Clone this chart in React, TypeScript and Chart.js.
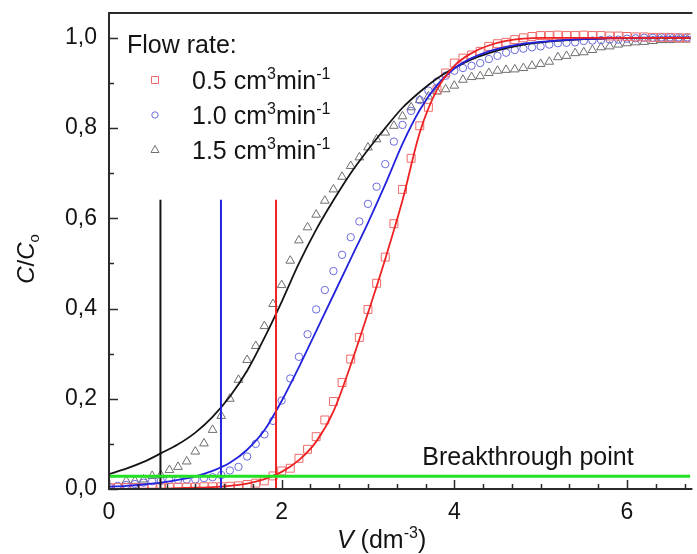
import React, { useEffect, useRef } from 'react';
import { Chart, registerables } from 'chart.js';

Chart.register(...registerables);

const FONT = '"Liberation Sans", Arial, Helvetica, sans-serif';

// ---- measured points (x = V in dm^3) ----
const V_POINTS = [
  0.0, 0.1, 0.2, 0.3, 0.4, 0.5, 0.6, 0.7, 0.8, 0.9,
  1.0, 1.1, 1.2, 1.3, 1.4, 1.5, 1.6, 1.7, 1.8, 1.9,
  2.0, 2.1, 2.2, 2.3, 2.4, 2.5, 2.6, 2.7, 2.8, 2.9,
  3.0, 3.1, 3.2, 3.3, 3.4, 3.5, 3.6, 3.7, 3.8, 3.9,
  4.0, 4.1, 4.2, 4.3, 4.4, 4.5, 4.6, 4.7, 4.8, 4.9,
  5.0, 5.1, 5.2, 5.3, 5.4, 5.5, 5.6, 5.7, 5.8, 5.9,
  6.0, 6.1, 6.2, 6.3, 6.4, 6.5, 6.6, 6.7,
];

const C_FLOW_05 = [
  0.003, 0.003, 0.003, 0.003, 0.003, 0.003, 0.003, 0.004, 0.004, 0.004,
  0.004, 0.005, 0.005, 0.005, 0.006, 0.007, 0.010, 0.013, 0.018, 0.029,
  0.040, 0.046, 0.068, 0.088, 0.116, 0.153, 0.194, 0.236, 0.288, 0.336,
  0.398, 0.456, 0.514, 0.588, 0.664, 0.733, 0.805, 0.846, 0.885, 0.922,
  0.944, 0.955, 0.962, 0.970, 0.981, 0.987, 0.990, 0.996, 1.000, 1.003,
  1.005, 1.005, 1.006, 1.005, 1.005, 1.006, 1.005, 1.005, 1.004, 1.004,
  1.003, 1.002, 1.002, 1.001, 1.001, 1.001, 1.000, 1.000,
];

const C_FLOW_10 = [
  0.005, 0.007, 0.009, 0.011, 0.014, 0.017, 0.018, 0.020, 0.020, 0.021,
  0.021, 0.024, 0.026, 0.031, 0.041, 0.049, 0.072, 0.100, 0.121, 0.151,
  0.196, 0.245, 0.293, 0.343, 0.398, 0.441, 0.483, 0.519, 0.558, 0.593,
  0.632, 0.670, 0.720, 0.770, 0.807, 0.838, 0.862, 0.883, 0.903, 0.916,
  0.927, 0.933, 0.938, 0.944, 0.953, 0.960, 0.967, 0.973, 0.976, 0.979,
  0.981, 0.985, 0.988, 0.989, 0.990, 0.993, 0.994, 0.995, 0.996, 0.996,
  0.998, 0.999, 1.000, 1.000, 1.001, 1.001, 1.001, 1.001,
];

const C_FLOW_15 = [
  null, null, 0.018, 0.018, 0.021, 0.029, 0.031, 0.042, 0.049, 0.061,
  0.083, 0.101, 0.131, 0.162, 0.200, 0.242, 0.286, 0.317, 0.361, 0.410,
  0.452, 0.506, 0.551, 0.580, 0.608, 0.639, 0.664, 0.692, 0.716, 0.735,
  0.757, 0.775, 0.790, 0.805, 0.826, 0.846, 0.862, 0.870, 0.881, 0.886,
  0.894, 0.907, 0.913, 0.915, 0.922, 0.927, 0.929, 0.930, 0.933, 0.938,
  0.942, 0.947, 0.957, 0.960, 0.966, 0.968, 0.973, 0.979, 0.981, 0.985,
  0.988, 0.990, 0.991, 0.993, 0.995, 0.995, 0.996, 0.996,
];

// ---- fitted curves ----
const V_FIT = [
  0, 0.2, 0.4, 0.6, 0.8, 1.0, 1.2, 1.4, 1.6, 1.8,
  2.0, 2.2, 2.4, 2.6, 2.8, 3.0, 3.2, 3.4, 3.6, 3.8,
  4.0, 4.2, 4.4, 4.6, 4.8, 5.0, 5.5, 6.0, 6.75,
];
const FIT_05 = [
  0.000, 0.000, 0.001, 0.001, 0.002, 0.003, 0.004, 0.007, 0.012, 0.022,
  0.038, 0.064, 0.105, 0.172, 0.275, 0.390, 0.510, 0.640, 0.790, 0.885,
  0.938, 0.966, 0.983, 0.993, 0.998, 1.000, 1.000, 1.000, 1.000,
];
const FIT_10 = [
  0.005, 0.007, 0.010, 0.014, 0.020, 0.028, 0.040, 0.058, 0.087, 0.130,
  0.195, 0.270, 0.350, 0.430, 0.510, 0.590, 0.675, 0.765, 0.840, 0.895,
  0.932, 0.955, 0.970, 0.980, 0.987, 0.991, 0.997, 1.000, 1.001,
];
const FIT_15 = [
  0.033, 0.045, 0.060, 0.079, 0.099, 0.125, 0.160, 0.205, 0.262, 0.335,
  0.415, 0.500, 0.575, 0.640, 0.700, 0.752, 0.800, 0.845, 0.880, 0.910,
  0.933, 0.952, 0.966, 0.977, 0.985, 0.990, 0.997, 1.000, 1.000,
];

// ---- breakthrough markers ----
const BREAKTHROUGH_V = [0.596, 1.297, 1.935]; // 1.5, 1.0, 0.5 cm3/min
const BREAKTHROUGH_TOP = 0.641;
const BREAKTHROUGH_C = 0.028;

const X_TICK_LABELS = ['0', '2', '4', '6'];
const Y_TICK_LABELS = ['0,0', '0,2', '0,4', '0,6', '0,8', '1,0'];

const X_MIN = 0;
const X_MAX = 6.735;
const Y_MIN = 0;
const Y_MAX = 1.055;

const RED_LINE = '#ee2222';
const RED_MARK = '#ef6b6b';
const BLUE_LINE = '#2323dd';
const BLUE_MARK = '#6a6ade';
const BLACK_LINE = '#151515';
const GRAY_MARK = '#6e6e6e';
const GREEN = '#22e022';
const AXIS = '#2a2a2a';

type Part = { t: string; italic?: boolean; sup?: boolean; sub?: boolean };

function partFont(p: Part, size: number) {
  const fs = p.sup || p.sub ? Math.round(size * 0.62) : size;
  return `${p.italic ? 'italic ' : ''}${fs}px ${FONT}`;
}
function measureRich(ctx: CanvasRenderingContext2D, parts: Part[], size: number) {
  let w = 0;
  for (const p of parts) {
    ctx.font = partFont(p, size);
    w += ctx.measureText(p.t).width;
  }
  return w;
}
function drawRich(ctx: CanvasRenderingContext2D, parts: Part[], x: number, y: number, size: number) {
  let cx = x;
  for (const p of parts) {
    ctx.font = partFont(p, size);
    const dy = p.sup ? -size * 0.4 : p.sub ? size * 0.22 : 0;
    ctx.fillText(p.t, cx, y + dy);
    cx += ctx.measureText(p.t).width;
  }
}

const LEGEND = [
  { label: '0.5', color: RED_MARK, shape: 'rect' },
  { label: '1.0', color: BLUE_MARK, shape: 'circle' },
  { label: '1.5', color: GRAY_MARK, shape: 'triangle' },
];

const overlayPlugin = {
  id: 'overlay',
  afterDatasetsDraw(chart: any) {
    const { ctx, chartArea: ca, scales } = chart;
    const xs = scales.x;
    const ys = scales.y;
    ctx.save();

    // frame
    ctx.strokeStyle = AXIS;
    ctx.lineWidth = 2;
    ctx.beginPath();
    ctx.moveTo(ca.right + 2, ca.top);
    ctx.lineTo(ca.left, ca.top);
    ctx.lineTo(ca.left, ca.bottom);
    ctx.lineTo(ca.right + 2, ca.bottom);
    ctx.stroke();

    // inward ticks
    ctx.lineWidth = 1.5;
    ctx.beginPath();
    for (let k = 0; k <= 10; k++) {
      const v = k / 10;
      const py = Math.round(ys.getPixelForValue(v)) + 0.5;
      const len = k % 2 === 0 ? 9 : 5;
      ctx.moveTo(ca.left, py);
      ctx.lineTo(ca.left + len, py);
    }
    for (let k = 0; k <= 21; k++) {
      const v = k / 3;
      if (v > X_MAX) break;
      const px = Math.round(xs.getPixelForValue(v)) + 0.5;
      const len = k % 6 === 0 ? 9 : 5;
      ctx.moveTo(px, ca.bottom);
      ctx.lineTo(px, ca.bottom - len);
    }
    ctx.stroke();

    ctx.fillStyle = '#141414';
    ctx.textBaseline = 'alphabetic';
    ctx.textAlign = 'left';

    // breakthrough label
    ctx.font = `25px ${FONT}`;
    ctx.fillText('Breakthrough point', xs.getPixelForValue(3.63), ys.getPixelForValue(0.053));

    // legend
    ctx.font = `25px ${FONT}`;
    ctx.fillText('Flow rate:', 127, 53);
    LEGEND.forEach((item, i) => {
      const my = 80 + i * 35;
      const mx = 155;
      ctx.strokeStyle = item.color;
      ctx.lineWidth = 1;
      ctx.beginPath();
      if (item.shape === 'rect') {
        ctx.rect(mx - 3.5, my - 3.5, 7, 7);
      } else if (item.shape === 'circle') {
        ctx.arc(mx, my, 3.2, 0, Math.PI * 2);
      } else {
        ctx.moveTo(mx, my - 4.5);
        ctx.lineTo(mx + 4, my + 2.5);
        ctx.lineTo(mx - 4, my + 2.5);
        ctx.closePath();
      }
      ctx.stroke();
      ctx.fillStyle = '#141414';
      drawRich(
        ctx,
        [{ t: `${item.label} cm` }, { t: '3', sup: true }, { t: 'min' }, { t: '-1', sup: true }],
        192,
        my + 9,
        25
      );
    });

    // x title
    drawRich(
      ctx,
      [{ t: 'V', italic: true }, { t: ' (dm' }, { t: '-3', sup: true }, { t: ')' }],
      337,
      548,
      25
    );

    // y title
    const yParts: Part[] = [{ t: 'C', italic: true }, { t: '/' }, { t: 'C', italic: true }, { t: 'o', sub: true }];
    const w = measureRich(ctx, yParts, 24);
    ctx.save();
    ctx.translate(34, 259);
    ctx.rotate(-Math.PI / 2);
    drawRich(ctx, yParts, -w / 2, 0, 24);
    ctx.restore();

    ctx.restore();
  },
};

function pts(xv: number[], yv: (number | null)[]) {
  const out: { x: number; y: number }[] = [];
  xv.forEach((x, i) => {
    const y = yv[i];
    if (y !== null && y !== undefined) out.push({ x, y });
  });
  return out;
}

export default function App() {
  const ref = useRef<HTMLCanvasElement>(null);

  useEffect(() => {
    if (!ref.current) return;
    const markerBase = {
      showLine: false,
      backgroundColor: 'rgba(0,0,0,0)',
      pointBorderWidth: 1,
      pointBackgroundColor: 'rgba(0,0,0,0)',
      order: 3,
    };
    const lineBase = {
      showLine: true,
      pointRadius: 0,
      borderWidth: 1.8,
      cubicInterpolationMode: 'monotone' as const,
      order: 2,
      fill: false,
    };
    const vlines = BREAKTHROUGH_V.map((v, i) => ({
      data: [
        { x: v, y: Y_MIN },
        { x: v, y: BREAKTHROUGH_TOP },
      ],
      showLine: true,
      pointRadius: 0,
      borderWidth: 2,
      borderColor: [BLACK_LINE, BLUE_LINE, RED_LINE][i],
      order: 1,
    }));

    const chart = new Chart(ref.current, {
      type: 'scatter',
      data: {
        datasets: [
          {
            ...markerBase,
            data: pts(V_POINTS, C_FLOW_05),
            pointStyle: 'rect',
            pointRadius: 5.6,
            borderColor: RED_MARK,
            pointBorderColor: RED_MARK,
          },
          {
            ...markerBase,
            data: pts(V_POINTS, C_FLOW_10),
            pointStyle: 'circle',
            pointRadius: 3.7,
            borderColor: BLUE_MARK,
            pointBorderColor: BLUE_MARK,
          },
          {
            ...markerBase,
            data: pts(V_POINTS, C_FLOW_15),
            pointStyle: 'triangle',
            pointRadius: 5,
            borderColor: GRAY_MARK,
            pointBorderColor: GRAY_MARK,
          },
          { ...lineBase, data: pts(V_FIT, FIT_05), borderColor: RED_LINE },
          { ...lineBase, data: pts(V_FIT, FIT_10), borderColor: BLUE_LINE },
          { ...lineBase, data: pts(V_FIT, FIT_15), borderColor: BLACK_LINE },
          ...vlines,
          {
            data: [
              { x: X_MIN, y: BREAKTHROUGH_C },
              { x: X_MAX, y: BREAKTHROUGH_C },
            ],
            showLine: true,
            pointRadius: 0,
            borderWidth: 3,
            borderColor: GREEN,
            order: 0,
          },
        ] as any,
      },
      options: {
        responsive: false,
        animation: false,
        devicePixelRatio: 1,
        layout: { padding: { top: 13, right: 0, left: 0, bottom: 0 } },
        plugins: {
          legend: { display: false },
          tooltip: { enabled: false },
          title: { display: false },
        },
        scales: {
          x: {
            type: 'linear',
            min: X_MIN,
            max: X_MAX,
            grid: { display: false, drawTicks: false },
            border: { display: false },
            ticks: {
              stepSize: 2,
              includeBounds: false,
              padding: 10,
              color: '#141414',
              font: { family: FONT, size: 23 },
              maxRotation: 0,
              callback: (v: any) => {
                const idx = [0, 2, 4, 6].indexOf(Number(v));
                return idx >= 0 ? X_TICK_LABELS[idx] : '';
              },
            },
            afterFit: (scale: any) => {
              scale.height = 65;
              scale.paddingLeft = 0;
              scale.paddingRight = 0;
            },
          },
          y: {
            type: 'linear',
            min: Y_MIN,
            max: Y_MAX,
            grid: { display: false, drawTicks: false },
            border: { display: false },
            ticks: {
              stepSize: 0.2,
              includeBounds: false,
              padding: 12,
              color: '#141414',
              font: { family: FONT, size: 23 },
              callback: (v: any) => {
                const idx = Math.round(Number(v) / 0.2);
                return Y_TICK_LABELS[idx] ?? '';
              },
            },
            afterFit: (scale: any) => {
              scale.width = 109;
              scale.paddingTop = 0;
              scale.paddingBottom = 0;
            },
          },
        },
      },
      plugins: [overlayPlugin],
    });
    return () => chart.destroy();
  }, []);

  return (
    <div
      style={{
        position: 'absolute',
        left: 0,
        top: 0,
        width: 697,
        height: 554,
        overflow: 'hidden',
        background: '#ffffff',
      }}
    >
      <canvas ref={ref} width={697} height={554} style={{ display: 'block' }} />
    </div>
  );
}
